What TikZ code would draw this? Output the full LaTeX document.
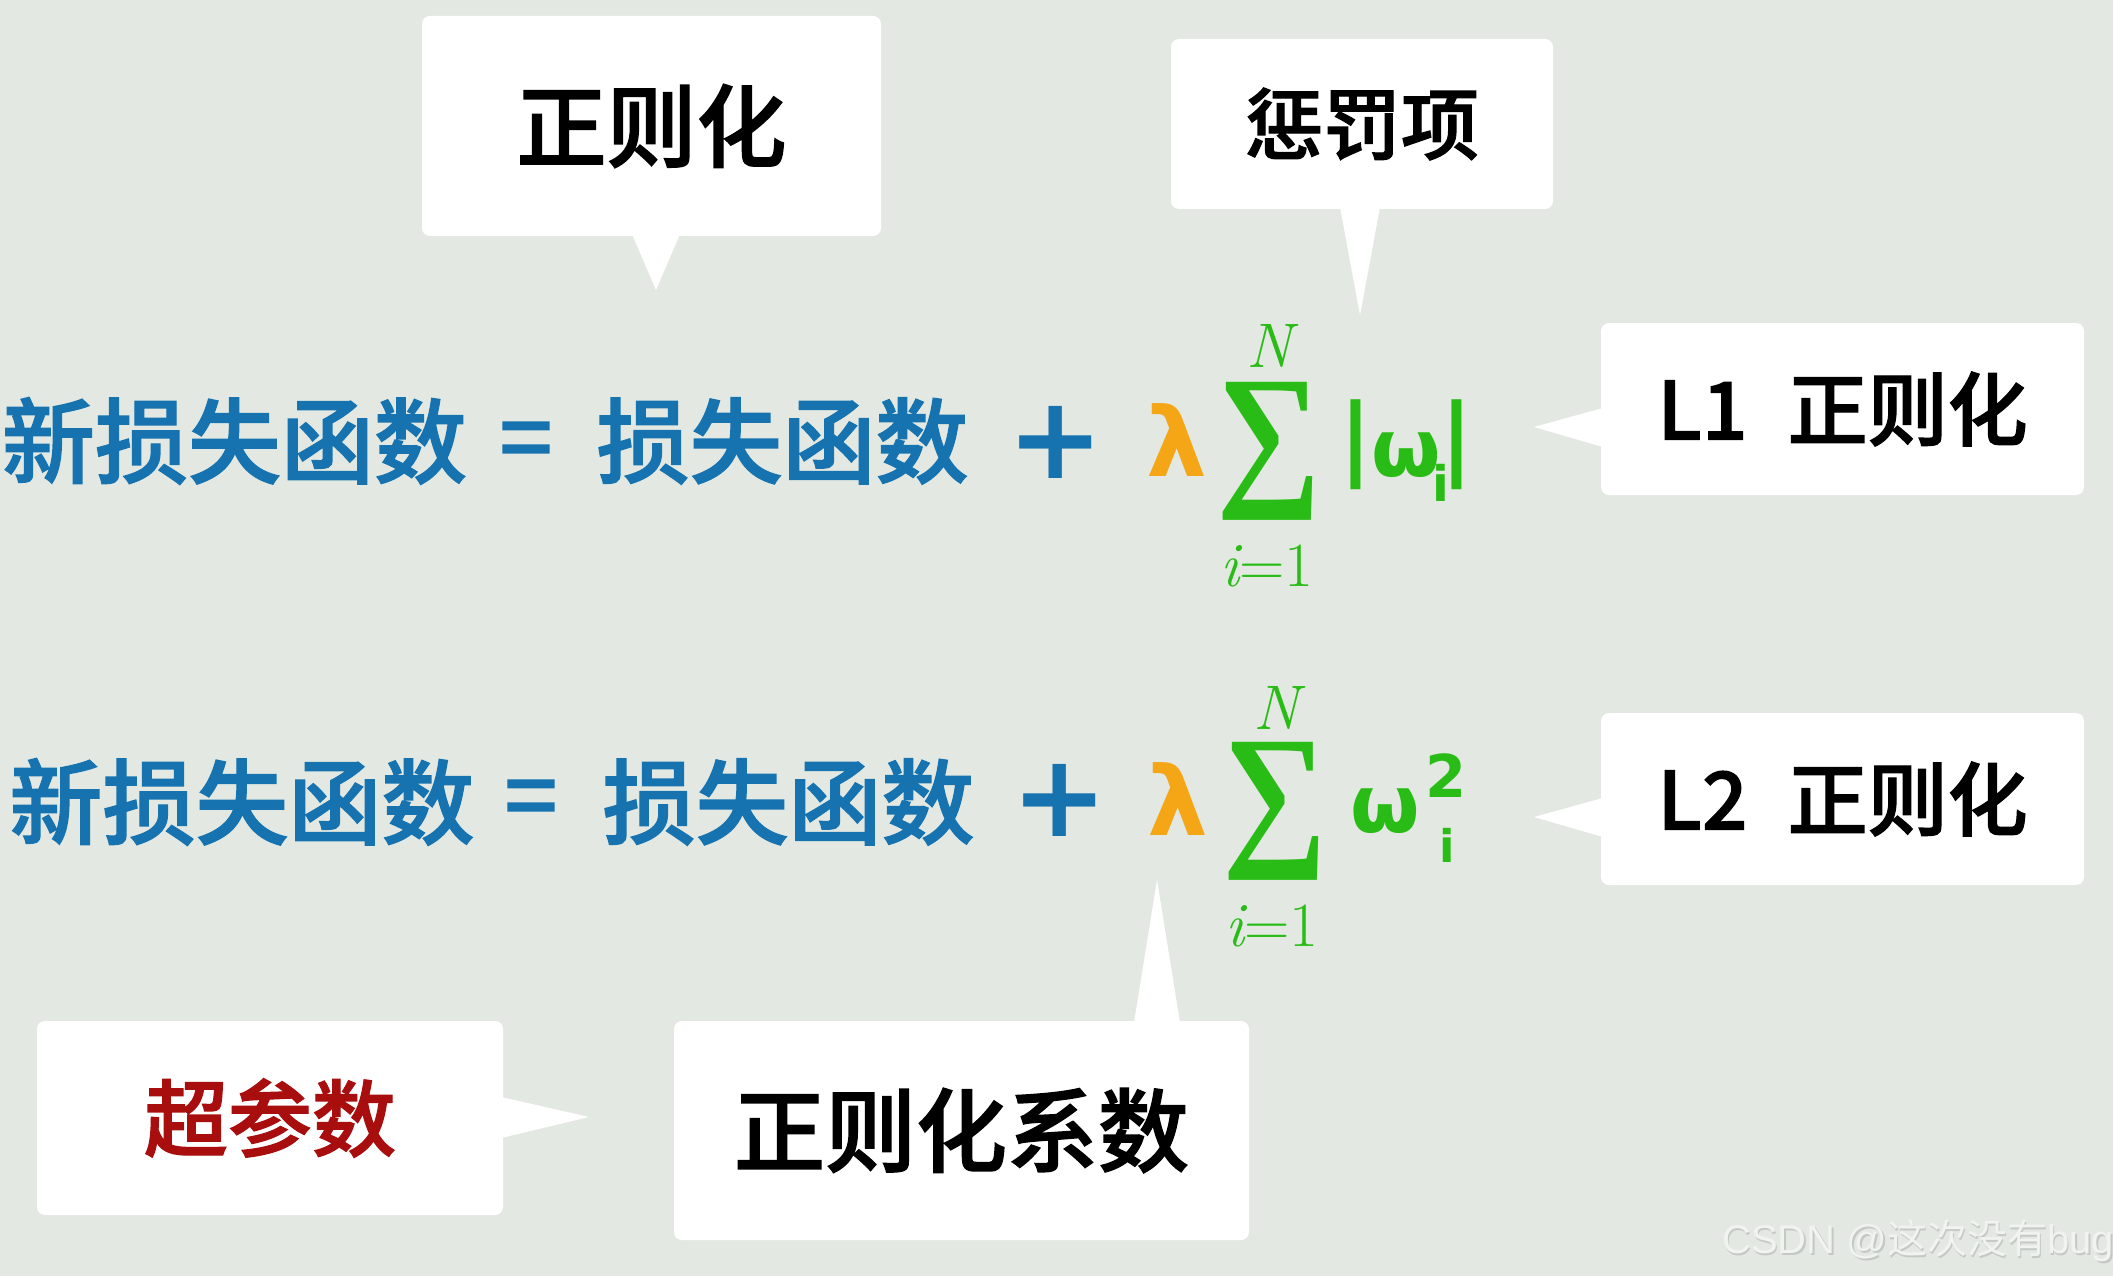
\documentclass[tikz,border=0pt]{standalone}
\usepackage{fontspec}
\usepackage{graphicx}
\newfontfamily\cjk{Noto Sans CJK SC}[UprightFont={* Medium}, UprightFeatures={FakeBold=1.5}, BoldFont={* Bold}]
\newfontfamily\cjkplain{Noto Sans CJK SC}
\newfontfamily\dejavu{DejaVu Sans}
\newfontfamily\libsans{Liberation Sans}
\newfontfamily\libserif{Liberation Serif}
\usetikzlibrary{calc}
\definecolor{bgc}{RGB}{227,233,226}
\definecolor{eqblue}{RGB}{22,115,176}
\definecolor{sumgreen}{RGB}{42,188,22}
\definecolor{lamorange}{RGB}{245,166,22}
\definecolor{hypred}{RGB}{168,14,14}
\definecolor{wmshadow}{RGB}{196,201,196}
\definecolor{wmlight}{RGB}{240,243,239}
\tikzset{
  callout/.style={fill=white, rounded corners=8pt, inner sep=0pt, text=black},
  eqtext/.style={inner sep=0pt, text=eqblue, font=\cjk\fontsize{93}{100}\selectfont},
  plussign/.style={inner sep=0pt, text=eqblue, font=\dejavu\bfseries\fontsize{115}{120}\selectfont},
  lam/.style={inner sep=0pt, text=lamorange, font=\dejavu\bfseries\fontsize{96}{100}\selectfont},
  gmath/.style={inner sep=0pt, text=sumgreen, font=\rmfamily\fontsize{63}{63}\selectfont},
  gsum/.style={inner sep=0pt, text=sumgreen, font=\libserif\bfseries},
  gsans/.style={inner sep=0pt, text=sumgreen, font=\dejavu\bfseries},
  pointer/.style={fill=white}
}
\begin{document}
\begin{tikzpicture}[x=1pt,y=-1pt]
\fill[bgc] (0,0) rectangle (2113,1276);
\useasboundingbox (0,0) rectangle (2113,1276);

% ---------- callout boxes ----------
\node[callout, minimum width=459pt, minimum height=220pt, font=\cjk\fontsize{90}{96}\selectfont]
  (bReg) at (651.5,126) {正则化};
\node[callout, minimum width=382pt, minimum height=170pt, font=\cjk\fontsize{78}{84}\selectfont]
  (bPen) at (1362,124) {惩罚项};
\node[callout, minimum width=483pt, minimum height=172pt, font=\cjk\fontsize{80}{86}\selectfont]
  (bL1) at (1842.5,409) {L1\hspace{0.5em}正则化};
\node[callout, minimum width=483pt, minimum height=172pt, font=\cjk\fontsize{80}{86}\selectfont]
  (bL2) at (1842.5,799) {L2\hspace{0.5em}正则化};
\node[callout, minimum width=466pt, minimum height=194pt, text=hypred, font=\cjk\fontsize{84}{90}\selectfont]
  (bHyp) at (270,1118) {超参数};
\node[callout, minimum width=575pt, minimum height=219pt, font=\cjk\fontsize{91}{96}\selectfont]
  (bCoef) at (961.5,1130.5) {正则化系数};

% ---------- pointer tips ----------
\coordinate (tReg) at (656,290);
\coordinate (tPen) at (1360,315);
\coordinate (tL1) at (1534,427);
\coordinate (tL2) at (1534,817);
\coordinate (tHyp) at (589,1117);
\coordinate (tCoef) at (1157,880);

\fill[pointer] ($(bReg.south)+(-19.5,-2)$) -- (tReg) -- ($(bReg.south)+(28.5,-2)$) -- cycle;
\fill[pointer] ($(bPen.south)+(-22,-2)$) -- (tPen) -- ($(bPen.south)+(18,-2)$) -- cycle;
\fill[pointer] ($(bL1.west)+(2,-1)$) -- (tL1) -- ($(bL1.west)+(2,38)$) -- cycle;
\fill[pointer] ($(bL2.west)+(2,-1)$) -- (tL2) -- ($(bL2.west)+(2,38)$) -- cycle;
\fill[pointer] ($(bHyp.east)+(-2,-21)$) -- (tHyp) -- ($(bHyp.east)+(-2,20)$) -- cycle;
\fill[pointer] ($(bCoef.north)+(172.5,2)$) -- (tCoef) -- ($(bCoef.north)+(218.5,2)$) -- cycle;

% ---------- row 1 ----------
\node[eqtext] (r1new) at (234.5,441) {新损失函数};
\node[eqtext] (r1eq) at (526,447) {=};
\node[eqtext] (r1loss) at (782.5,441) {损失函数};
\node[plussign] (r1plus) at (1056,442) {+};
\node[lam] (r1lam) at (1177,440) {λ};
\node[gsum] (r1sum) at (1269,451) {\resizebox*{105pt}{138pt}{∑}};
\node[gmath] (r1N) at (1269,346) {\itshape N};
\node[gmath] (r1low) at (1267,566) {\itshape i\upshape =1};
\node[gsans, font=\dejavu\bfseries\fontsize{90}{90}\selectfont] (r1barl) at (1356,445) {|};
\node[gsans, font=\dejavu\bfseries\fontsize{80}{80}\selectfont] (r1w) at (1406,455) {ω};
\node[gsans, font=\dejavu\bfseries\fontsize{49}{49}\selectfont] (r1i) at (1441,483) {i};
\node[gsans, font=\dejavu\bfseries\fontsize{90}{90}\selectfont] (r1barr) at (1457,445) {|};

% ---------- row 2 ----------
\node[eqtext] (r2new) at (242,802) {新损失函数};
\node[eqtext] (r2eq) at (531,805) {=};
\node[eqtext] (r2loss) at (788.5,802) {损失函数};
\node[plussign] (r2plus) at (1060,800) {+};
\node[lam] (r2lam) at (1178,799) {λ};
\node[gsum] (r2sum) at (1275,811) {\resizebox*{105pt}{138pt}{∑}};
\node[gmath] (r2N) at (1276,708) {\itshape N};
\node[gmath] (r2low) at (1272,926) {\itshape i\upshape =1};
\node[gsans, font=\dejavu\bfseries\fontsize{80}{80}\selectfont] (r2w) at (1385,811) {ω};
\node[gsans, font=\dejavu\bfseries\fontsize{59}{59}\selectfont] (r2sup) at (1446,776) {2};
\node[gsans, font=\dejavu\bfseries\fontsize{45}{45}\selectfont] (r2i) at (1447,845) {i};

% ---------- watermark ----------
\node[inner sep=0pt, anchor=west, text=wmshadow, font=\fontsize{40}{40}\selectfont] (wmS) at (1723.5,1242.5)
  {\libsans CSDN @\cjkplain 这次没有\libsans bug};
\node[inner sep=0pt, anchor=west, text=wmlight, font=\fontsize{40}{40}\selectfont] (wm) at (1722,1241)
  {\libsans CSDN @\cjkplain 这次没有\libsans bug};
\end{tikzpicture}
\end{document}
